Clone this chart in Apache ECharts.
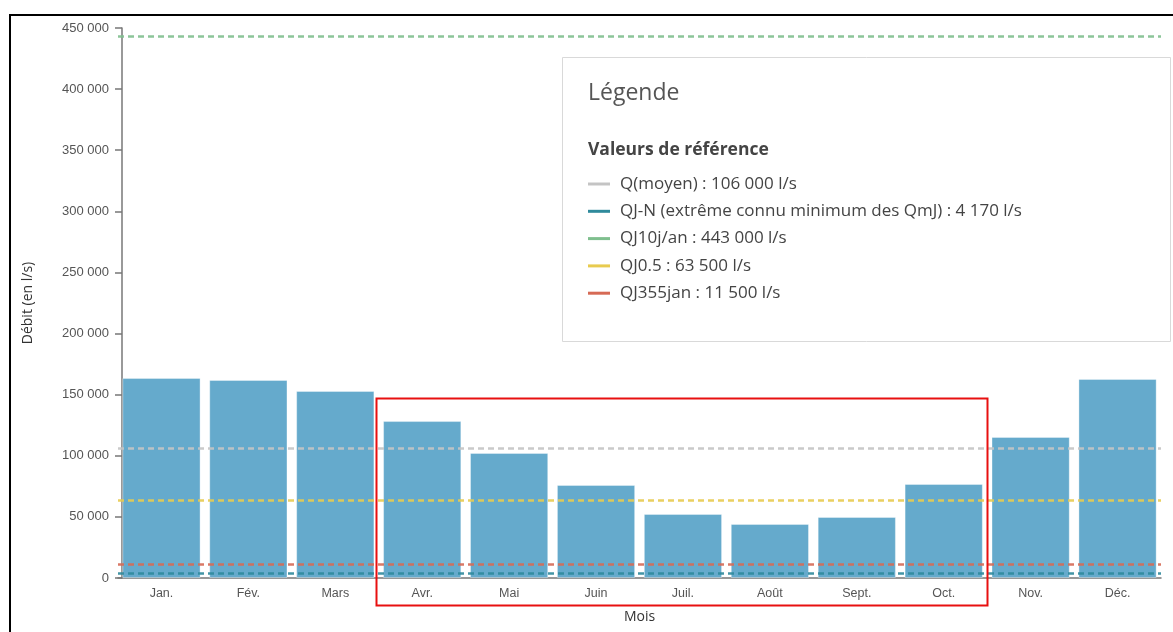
<!DOCTYPE html>
<html>
<head>
<meta charset="utf-8">
<script src="https://cdn.jsdelivr.net/npm/echarts@6/dist/echarts.min.js"></script>
<style>
  html, body { margin: 0; padding: 0; background: #fff; }
  #main { width: 1173px; height: 632px; }
</style>
</head>
<body>
<div id="main"></div>
<script>
// mois et débits mensuels (l/s)
let months = ['Jan.', 'Fév.', 'Mars', 'Avr.', 'Mai', 'Juin', 'Juil.', 'Août', 'Sept.', 'Oct.', 'Nov.', 'Déc.'];
let debits = [163600, 162000, 153000, 128400, 102300, 76100, 52400, 44200, 49900, 76900, 115400, 162800];

// valeurs de référence
let refNames = ['Q(moyen) : 106 000 l/s', 'QJ-N (extrême connu minimum des QmJ) : 4 170 l/s', 'QJ10j/an : 443 000 l/s', 'QJ0.5 : 63 500 l/s', 'QJ355jan : 11 500 l/s'];
let refValues = [106000, 4170, 443000, 63500, 11500];
let refColors = ['#c4c4c4', '#2f8a9c', '#7fbf8e', '#e8cb4f', '#d66a55'];

let yTicks = [0, 50000, 100000, 150000, 200000, 250000, 300000, 350000, 400000, 450000];

function fmt(v) {
    return String(v).replace(/\B(?=(\d{3})+(?!\d))/g, ' ');
}

let chart = echarts.init(document.getElementById('main'));

let series = [{
    type: 'bar',
    data: debits,
    barCategoryGap: '10%',
    itemStyle: { color: '#65aacc', borderColor: 'rgba(255,255,255,0.35)', borderWidth: 1 },
    z: 2
}];

refNames.forEach((name, i) => {
    series.push({
        name: name,
        type: 'line',
        data: [],
        color: refColors[i],
        z: 3,
        markLine: {
            silent: true,
            symbol: 'none',
            label: { show: false },
            lineStyle: { color: refColors[i], type: [6, 4], width: 2.5, opacity: 0.9 },
            data: [{ yAxis: refValues[i] }]
        }
    });
});

let option = {
    animation: false,
    textStyle: { fontFamily: 'Liberation Sans, Arial, sans-serif' },
    grid: { left: 118, right: 12, top: 28, bottom: 54, outerBoundsMode: 'none' },
    xAxis: {
        type: 'category',
        data: months,
        name: 'Mois',
        nameLocation: 'middle',
        nameGap: 32,
        nameTextStyle: { fontFamily: 'Open Sans, sans-serif', fontSize: 14, color: '#333' },
        axisLine: { lineStyle: { color: '#777', width: 1.5 } },
        axisTick: { alignWithLabel: true, length: 6, lineStyle: { color: '#777', width: 1.5 } },
        axisLabel: { fontSize: 12.5, color: '#555', margin: 9 }
    },
    yAxis: {
        type: 'value',
        min: yTicks[0],
        max: yTicks[yTicks.length - 1],
        interval: yTicks[1] - yTicks[0],
        offset: -4,
        name: 'Débit (en l/s)',
        nameLocation: 'middle',
        nameGap: 87,
        nameTextStyle: { fontFamily: 'Open Sans, sans-serif', fontSize: 14, color: '#333' },
        axisLine: { show: true, lineStyle: { color: '#777', width: 1.5 } },
        axisTick: { show: true, length: 7, lineStyle: { color: '#777', width: 1.5 } },
        splitLine: { show: false },
        axisLabel: { fontSize: 13, color: '#555', margin: 13, formatter: fmt }
    },
    legend: {
        orient: 'vertical',
        left: 588,
        top: 174,
        padding: 0,
        icon: 'rect',
        itemWidth: 22,
        itemHeight: 3,
        itemGap: 7.3,
        selectedMode: false,
        textStyle: { fontFamily: 'Open Sans, Noto Sans, sans-serif', fontSize: 17, color: '#444', lineHeight: 20, padding: [0, 0, 0, 5] },
        data: refNames,
        z: 10
    },
    graphic: [
        {
            type: 'rect',
            z: 5,
            shape: { x: 562.5, y: 57.5, width: 608, height: 284 },
            style: { fill: '#fff', stroke: '#d9d9d9', lineWidth: 1 }
        },
        {
            type: 'text',
            z: 6,
            left: 588,
            top: 82,
            style: { text: 'Légende', fontFamily: 'Open Sans, Noto Sans, sans-serif', fontSize: 23, fill: '#555' }
        },
        {
            type: 'text',
            z: 6,
            left: 588,
            top: 141,
            style: { text: 'Valeurs de référence', fontFamily: 'Open Sans, Noto Sans, sans-serif', fontSize: 17.5, fontWeight: 'bold', fill: '#444' }
        },
        {
            type: 'rect',
            z: 20,
            shape: { x: 376.5, y: 398.5, width: 611, height: 207 },
            style: { fill: 'none', stroke: '#e81010', lineWidth: 2 }
        },
        {
            type: 'polyline',
            z: 20,
            shape: { points: [[10, 640], [10, 15], [1180, 15]] },
            style: { fill: 'none', stroke: '#000', lineWidth: 2 }
        }
    ],
    series: series
};

chart.setOption(option);
</script>
</body>
</html>
